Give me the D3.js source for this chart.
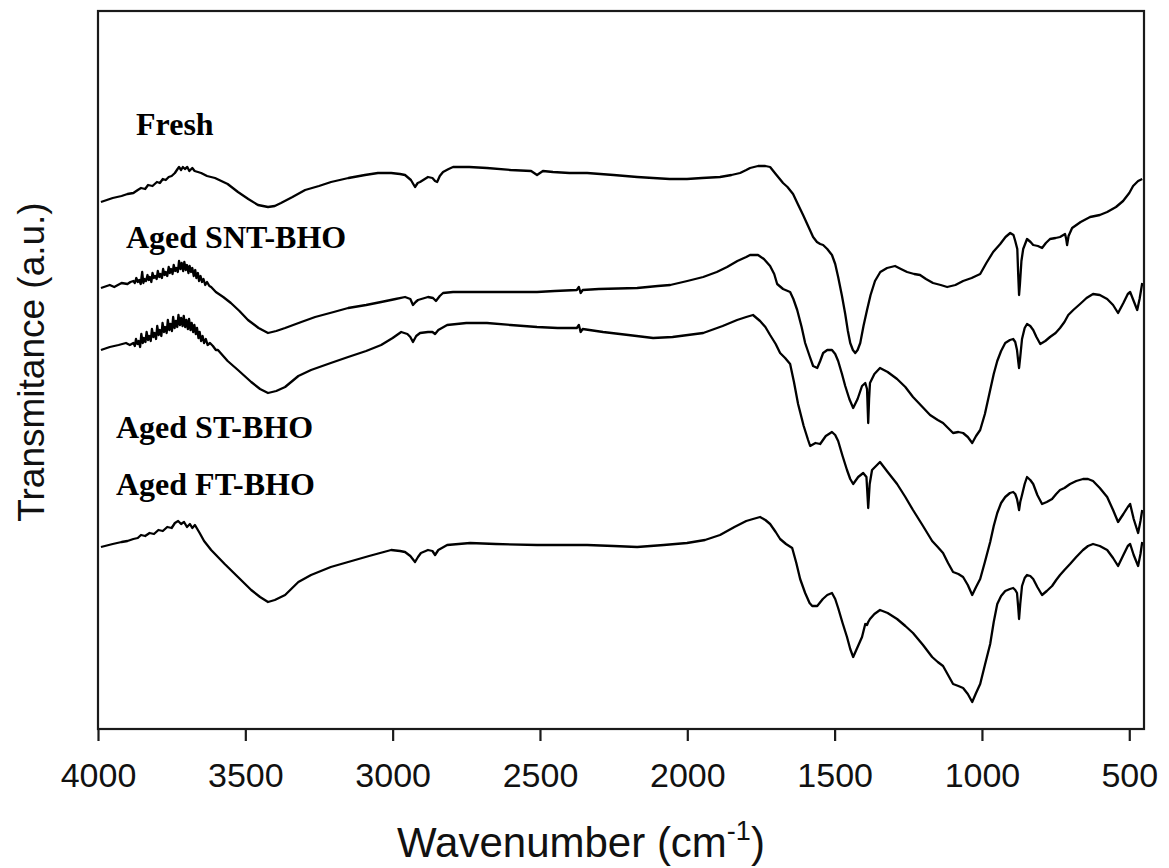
<!DOCTYPE html>
<html>
<head>
<meta charset="utf-8">
<script src="https://cdn.jsdelivr.net/npm/d3@7"></script>
<style>
  html, body { margin: 0; padding: 0; background: #fff; }
  svg { display: block; }
</style>
</head>
<body>
<svg id="chart" width="1169" height="868"></svg>
<script>
// FTIR spectra: [wavenumber (cm-1), transmittance (a.u., offset per sample)]
const fresh = [
  [3990,5.27],[3950,5.31],[3920,5.33],[3900,5.35],[3880,5.36],[3865,5.39],[3854,5.41],[3840,5.40],[3830,5.44],
  [3815,5.43],[3800,5.47],[3790,5.46],[3780,5.50],[3770,5.49],[3760,5.52],[3750,5.53],[3739,5.56],[3730,5.60],
  [3725,5.62],[3718,5.59],[3712,5.62],[3705,5.60],[3697,5.62],[3690,5.58],[3680,5.61],[3672,5.58],[3661,5.57],
  [3650,5.56],[3630,5.53],[3603,5.51],[3560,5.45],[3525,5.37],[3490,5.30],[3457,5.24],[3423,5.22],[3400,5.23],
  [3379,5.26],[3340,5.32],[3297,5.39],[3250,5.43],[3209,5.47],[3150,5.51],[3094,5.54],[3050,5.56],[3005,5.56],
  [2975,5.55],[2958,5.54],[2938,5.49],[2924,5.42],[2915,5.46],[2907,5.47],[2880,5.52],[2865,5.51],[2856,5.48],
  [2849,5.47],[2840,5.53],[2829,5.57],[2810,5.60],[2795,5.62],[2740,5.62],[2680,5.61],[2600,5.59],[2530,5.58],
  [2510,5.54],[2490,5.58],[2456,5.57],[2400,5.56],[2340,5.56],[2250,5.54],[2170,5.52],[2116,5.51],[2060,5.50],
  [2001,5.50],[1950,5.51],[1889,5.52],[1850,5.54],[1821,5.56],[1800,5.59],[1787,5.61],[1760,5.63],[1735,5.63],
  [1719,5.62],[1700,5.55],[1675,5.46],[1660,5.42],[1641,5.35],[1625,5.25],[1607,5.14],[1590,5.03],[1573,4.92],
  [1560,4.87],[1549,4.85],[1539,4.84],[1525,4.80],[1509,4.74],[1498,4.65],[1488,4.52],[1475,4.33],[1464,4.15],
  [1455,3.98],[1447,3.86],[1438,3.79],[1430,3.76],[1422,3.79],[1413,3.86],[1402,4.03],[1390,4.19],[1378,4.34],
  [1363,4.48],[1345,4.57],[1322,4.61],[1295,4.63],[1275,4.60],[1254,4.57],[1230,4.55],[1210,4.54],[1190,4.50],
  [1166,4.46],[1140,4.44],[1118,4.42],[1090,4.44],[1064,4.48],[1035,4.51],[1006,4.55],[985,4.66],[962,4.77],
  [938,4.85],[920,4.92],[904,4.96],[893,4.94],[887,4.88],[880,4.80],[877,4.55],[874,4.34],[871,4.45],[866,4.68],
  [860,4.80],[847,4.90],[835,4.87],[826,4.84],[810,4.83],[796,4.81],[783,4.86],[769,4.90],[750,4.91],[735,4.92],
  [718,4.95],[714,4.90],[711,4.84],[706,4.93],[694,5.01],[665,5.07],[633,5.12],[600,5.14],[575,5.17],[545,5.22],
  [521,5.28],[500,5.36],[487,5.43],[470,5.48],[456,5.50]
];

const agedSNT = [
  [3990,4.41],[3960,4.44],[3945,4.42],[3920,4.46],[3900,4.45],[3890,4.47],
  [3880,4.48],[3875,4.46],[3870,4.51],[3865,4.47],[3860,4.49],[3855,4.45],[3850,4.57],[3846,4.46],[3842,4.50],
  [3837,4.48],[3832,4.54],[3828,4.49],[3824,4.52],[3819,4.47],[3815,4.56],[3810,4.51],[3806,4.53],[3801,4.50],
  [3797,4.58],[3792,4.52],[3788,4.55],[3783,4.51],[3779,4.60],[3774,4.54],[3770,4.57],[3765,4.53],[3760,4.62],
  [3756,4.56],[3752,4.60],[3747,4.55],[3743,4.64],[3738,4.58],[3734,4.61],[3729,4.57],[3725,4.68],[3720,4.60],
  [3716,4.66],[3711,4.58],[3707,4.67],[3702,4.59],[3698,4.64],[3693,4.56],[3689,4.63],[3684,4.57],[3680,4.61],
  [3675,4.53],[3670,4.59],[3666,4.51],[3661,4.56],[3657,4.48],[3652,4.53],[3647,4.47],[3642,4.50],[3636,4.44],
  [3630,4.47],[3622,4.43],[3616,4.42],[3600,4.37],[3575,4.32],[3549,4.26],[3520,4.18],[3491,4.09],[3455,4.01],
  [3423,3.96],[3395,3.98],[3365,4.01],[3310,4.07],[3263,4.12],[3200,4.17],[3151,4.21],[3090,4.24],[3039,4.27],
  [2990,4.30],[2958,4.32],[2940,4.30],[2931,4.24],[2922,4.27],[2914,4.29],[2880,4.32],[2863,4.31],[2853,4.28],
  [2840,4.33],[2829,4.36],[2795,4.37],[2700,4.37],[2600,4.37],[2510,4.37],[2450,4.38],[2375,4.39],[2368,4.42],
  [2362,4.36],[2355,4.39],[2300,4.40],[2170,4.41],[2100,4.43],[2058,4.44],[2000,4.48],[1946,4.52],[1900,4.57],
  [1865,4.62],[1830,4.68],[1800,4.72],[1787,4.74],[1760,4.74],[1740,4.70],[1719,4.63],[1705,4.55],[1695,4.45],
  [1675,4.40],[1651,4.37],[1640,4.30],[1627,4.19],[1612,4.02],[1600,3.86],[1585,3.73],[1573,3.63],[1559,3.61],
  [1549,3.68],[1539,3.76],[1525,3.79],[1509,3.79],[1498,3.75],[1488,3.68],[1475,3.55],[1464,3.43],[1450,3.30],
  [1437,3.21],[1422,3.30],[1407,3.43],[1396,3.46],[1390,3.40],[1386,3.06],[1383,3.30],[1380,3.46],[1365,3.55],
  [1346,3.61],[1320,3.57],[1288,3.50],[1260,3.42],[1234,3.32],[1205,3.23],[1176,3.14],[1150,3.09],[1132,3.06],
  [1115,3.01],[1098,2.96],[1080,2.97],[1064,2.96],[1048,2.92],[1033,2.86],[1020,2.93],[1006,2.99],[990,3.15],
  [972,3.39],[960,3.55],[948,3.68],[935,3.78],[921,3.86],[905,3.89],[894,3.90],[887,3.87],[881,3.79],[877,3.68],
  [874,3.61],[870,3.72],[864,3.90],[855,4.01],[847,4.05],[836,4.03],[826,3.99],[815,3.92],[802,3.85],[785,3.88],
  [769,3.92],[750,3.96],[735,4.01],[720,4.07],[707,4.14],[690,4.19],[667,4.25],[645,4.31],[623,4.35],[600,4.34],
  [575,4.30],[555,4.24],[538,4.16],[520,4.26],[505,4.35],[497,4.37],[485,4.28],[473,4.19],[465,4.30],[456,4.46]
];

const agedST = [
  [3990,3.79],[3960,3.82],[3930,3.84],[3905,3.86],[3892,3.84],
  [3880,3.86],[3875,3.83],[3871,3.90],[3866,3.85],[3862,3.88],[3857,3.82],[3853,3.95],[3848,3.86],[3844,3.91],
  [3839,3.87],[3835,3.97],[3830,3.89],[3826,3.93],[3821,3.88],[3817,4.00],[3812,3.92],[3808,3.96],[3803,3.90],
  [3799,4.03],[3794,3.94],[3790,3.99],[3785,3.93],[3781,4.06],[3776,3.97],[3772,4.02],[3767,3.96],[3763,4.09],
  [3758,3.99],[3754,4.05],[3749,3.98],[3745,4.12],[3740,4.01],[3736,4.08],[3731,4.02],[3727,4.14],[3722,4.04],
  [3718,4.11],[3713,4.03],[3709,4.13],[3704,4.02],[3700,4.09],[3695,4.00],[3691,4.10],[3686,3.99],[3682,4.06],
  [3677,3.97],[3673,4.04],[3668,3.95],[3664,4.01],[3659,3.91],[3655,3.97],[3650,3.88],[3645,3.93],[3640,3.86],
  [3634,3.90],[3628,3.84],[3620,3.86],[3610,3.83],[3600,3.79],[3593,3.79],[3560,3.68],[3525,3.59],[3480,3.47],
  [3450,3.40],[3423,3.36],[3395,3.38],[3365,3.42],[3320,3.53],[3277,3.59],[3210,3.66],[3151,3.72],[3090,3.78],
  [3039,3.84],[3000,3.91],[2971,3.97],[2950,3.95],[2940,3.92],[2931,3.87],[2920,3.93],[2907,3.96],[2880,3.97],
  [2865,3.97],[2856,3.95],[2845,3.99],[2815,4.04],[2750,4.06],[2680,4.06],[2600,4.04],[2510,4.02],[2440,4.01],
  [2375,4.01],[2368,4.04],[2362,3.97],[2355,4.00],[2286,3.97],[2200,3.94],[2116,3.91],[2050,3.92],[1946,3.96],
  [1880,4.03],[1831,4.09],[1800,4.12],[1777,4.14],[1753,4.08],[1735,4.02],[1719,3.94],[1700,3.85],[1685,3.76],
  [1668,3.71],[1651,3.65],[1638,3.47],[1624,3.25],[1605,3.03],[1590,2.89],[1583,2.83],[1565,2.86],[1549,2.85],
  [1530,2.93],[1509,2.97],[1498,2.94],[1488,2.88],[1473,2.73],[1458,2.59],[1447,2.50],[1437,2.45],[1420,2.52],
  [1403,2.56],[1392,2.52],[1386,2.21],[1381,2.45],[1373,2.59],[1346,2.67],[1320,2.57],[1288,2.45],[1260,2.32],
  [1234,2.19],[1200,2.03],[1169,1.88],[1150,1.82],[1132,1.76],[1115,1.66],[1098,1.57],[1080,1.55],[1064,1.52],
  [1048,1.44],[1033,1.34],[1020,1.42],[1006,1.50],[990,1.67],[972,1.87],[960,2.03],[948,2.16],[935,2.26],
  [921,2.32],[905,2.36],[894,2.37],[887,2.35],[881,2.30],[877,2.24],[874,2.19],[870,2.27],[864,2.34],[855,2.45],
  [847,2.52],[836,2.49],[826,2.45],[812,2.34],[796,2.25],[780,2.27],[762,2.30],[748,2.35],[735,2.39],[720,2.41],
  [701,2.45],[680,2.48],[657,2.50],[640,2.50],[623,2.48],[600,2.41],[575,2.32],[555,2.19],[538,2.07],[520,2.15],
  [505,2.22],[497,2.25],[485,2.10],[470,1.96],[462,2.08],[456,2.19]
];

const agedFT = [
  [3990,1.82],[3950,1.85],[3920,1.87],[3900,1.88],[3880,1.90],[3865,1.91],[3854,1.94],[3840,1.93],[3825,1.96],
  [3810,1.95],[3795,1.99],[3780,1.98],[3765,2.02],[3750,2.01],[3739,2.06],[3728,2.08],[3718,2.05],[3708,2.07],
  [3698,2.02],[3688,2.05],[3680,2.01],[3671,2.04],[3655,1.96],[3640,1.88],[3616,1.79],[3570,1.65],[3525,1.52],
  [3480,1.39],[3450,1.32],[3423,1.27],[3400,1.29],[3365,1.34],[3320,1.47],[3277,1.54],[3210,1.62],[3151,1.67],
  [3080,1.73],[3005,1.79],[2975,1.78],[2958,1.77],[2940,1.73],[2924,1.67],[2914,1.72],[2904,1.76],[2880,1.79],
  [2865,1.78],[2856,1.74],[2845,1.79],[2815,1.84],[2737,1.86],[2650,1.85],[2510,1.84],[2420,1.84],[2340,1.84],
  [2250,1.83],[2170,1.82],[2080,1.84],[2001,1.86],[1940,1.89],[1889,1.94],[1840,2.02],[1800,2.08],[1777,2.10],
  [1753,2.12],[1735,2.09],[1719,2.05],[1700,1.97],[1685,1.90],[1665,1.85],[1644,1.81],[1630,1.66],[1617,1.50],
  [1600,1.36],[1585,1.26],[1576,1.23],[1559,1.23],[1540,1.30],[1525,1.34],[1509,1.36],[1498,1.30],[1488,1.21],
  [1473,1.06],[1458,0.92],[1447,0.80],[1437,0.72],[1422,0.82],[1407,0.92],[1396,1.05],[1390,1.04],[1386,1.07],
  [1380,1.10],[1365,1.15],[1346,1.19],[1320,1.16],[1288,1.10],[1260,1.03],[1234,0.96],[1200,0.84],[1169,0.72],
  [1150,0.67],[1132,0.63],[1115,0.54],[1098,0.45],[1080,0.43],[1064,0.41],[1048,0.35],[1033,0.27],[1020,0.36],
  [1006,0.45],[990,0.64],[972,0.85],[960,1.07],[948,1.25],[935,1.33],[921,1.38],[905,1.40],[894,1.41],[887,1.39],
  [881,1.36],[877,1.22],[874,1.10],[870,1.25],[864,1.43],[855,1.51],[847,1.54],[836,1.53],[826,1.50],[812,1.42],
  [796,1.34],[780,1.38],[762,1.43],[748,1.49],[735,1.54],[720,1.59],[701,1.65],[680,1.72],[657,1.79],[640,1.83],
  [623,1.85],[600,1.83],[575,1.79],[555,1.71],[538,1.63],[520,1.74],[505,1.83],[497,1.85],[485,1.74],[470,1.63],
  [462,1.75],[456,1.87]
];

const seriesList = [fresh, agedSNT, agedST, agedFT];

// sample labels: [text, wavenumber at left edge, transmittance at baseline]
const sampleLabels = [
  ["Fresh", 3871, 5.94],
  ["Aged SNT-BHO", 3905, 4.81],
  ["Aged ST-BHO", 3939, 2.91],
  ["Aged FT-BHO", 3939, 2.34]
];

const xTicks = [4000, 3500, 3000, 2500, 2000, 1500, 1000, 500];

const svg = d3.select("#chart");
const plotLeft = 98, plotRight = 1144, plotTop = 11, plotBottom = 729;

const x = d3.scaleLinear().domain([4000, 450]).range([plotLeft, plotRight]);
const y = d3.scaleLinear().domain([0, 7.18]).range([plotBottom, plotTop]);

// spectra
const line = d3.line().x(d => x(d[0])).y(d => y(d[1]));
svg.append("g")
  .selectAll("path")
  .data(seriesList)
  .join("path")
  .attr("d", line)
  .attr("fill", "none")
  .attr("stroke", "#000")
  .attr("stroke-width", 2.3)
  .attr("stroke-linejoin", "round");

// frame
svg.append("rect")
  .attr("x", plotLeft).attr("y", plotTop)
  .attr("width", plotRight - plotLeft).attr("height", plotBottom - plotTop)
  .attr("fill", "none")
  .attr("stroke", "#1a1a1a")
  .attr("stroke-width", 2.2);

// bottom axis
const xAxis = d3.axisBottom(x)
  .tickValues(xTicks)
  .tickFormat(d3.format("d"))
  .tickSize(12)
  .tickPadding(22);

const gx = svg.append("g")
  .attr("transform", `translate(0,${plotBottom})`)
  .call(xAxis);
gx.select(".domain").remove();
gx.selectAll(".tick line").attr("stroke", "#1a1a1a").attr("stroke-width", 2.2);
gx.selectAll(".tick text")
  .attr("fill", "#111")
  .style("font-family", "'Liberation Sans', Arial, sans-serif")
  .style("font-size", "34px");

// axis titles
const title = svg.append("text")
  .attr("x", 397)
  .attr("y", 857)
  .attr("fill", "#111")
  .style("font-family", "'Liberation Sans', Arial, sans-serif")
  .style("font-size", "42px");
title.append("tspan").text("Wavenumber (cm");
title.append("tspan").attr("dy", -17).style("font-size", "27px").text("-1");
title.append("tspan").attr("dy", 17).text(")");

svg.append("text")
  .attr("transform", "translate(44,362) rotate(-90)")
  .attr("text-anchor", "middle")
  .attr("fill", "#111")
  .style("font-family", "'Liberation Sans', Arial, sans-serif")
  .style("font-size", "37px")
  .text("Transmitance (a.u.)");

// sample labels
svg.append("g")
  .selectAll("text")
  .data(sampleLabels)
  .join("text")
  .attr("x", d => x(d[1]))
  .attr("y", d => y(d[2]))
  .attr("fill", "#000")
  .style("font-family", "'Liberation Serif', 'Times New Roman', serif")
  .style("font-weight", "bold")
  .style("font-size", "32px")
  .text(d => d[0]);
</script>
</body>
</html>
